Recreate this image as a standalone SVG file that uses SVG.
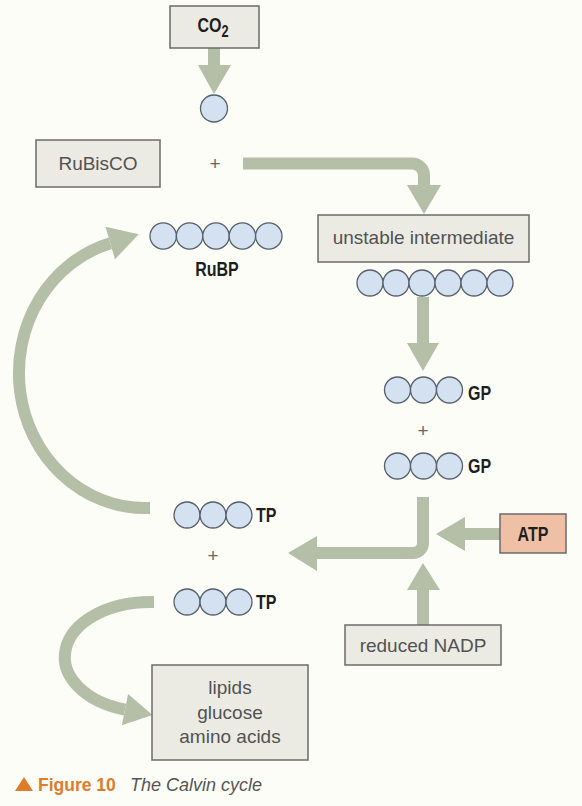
<svg xmlns="http://www.w3.org/2000/svg" width="582" height="806" viewBox="0 0 582 806">
<style>
.bg{fill:#fdfdf8}
.box{fill:#ebebe4;stroke:#6b6b6b;stroke-width:1.5}
.atp{fill:#efbfa6;stroke:#6b6b6b;stroke-width:1.5}
.c{fill:#d4e1f0;stroke:#56606b;stroke-width:1.3}
.shaft{fill:none;stroke:#b5bea7;stroke-width:12}
.head{fill:#b5bea7}
.t{font-family:"Liberation Sans",Arial,sans-serif;font-size:19px;fill:#525252;text-anchor:middle}
.b{font-family:"Liberation Sans",Arial,sans-serif;font-weight:bold;font-size:20px;fill:#1e1e1e}
.plus{font-family:"Liberation Sans",Arial,sans-serif;font-size:19px;fill:#666;text-anchor:middle}
</style>
<rect class="bg" x="0" y="0" width="582" height="806"/>

<g id="connectors">
  <line class="shaft" x1="214" y1="48" x2="214" y2="66"/>
  <polygon class="head" points="198,65 231,65 214,94"/>
  <path class="shaft" d="M243,163.5 H412 A12,12 0 0 1 424,175.5 V186"/>
  <polygon class="head" points="407,185 441,185 424,214"/>
  <line class="shaft" x1="423" y1="297" x2="423" y2="344"/>
  <polygon class="head" points="407,343 439,343 423,371"/>
  <path class="shaft" d="M423,497 V543 A10,10 0 0 1 413,553 H316"/>
  <polygon class="head" points="317,536 317,571 288,553"/>
  <line class="shaft" x1="500" y1="534" x2="464" y2="534"/>
  <polygon class="head" points="465,517 465,551 436,534"/>
  <line class="shaft" x1="423" y1="625" x2="423" y2="589"/>
  <polygon class="head" points="407,590 440,590 423,563"/>
  <path class="shaft" d="M150,508 L145,508 A126,135 0 0 1 110.3,243.2"/>
  <polygon class="head" points="115,259.3 105.5,226.7 138.7,234.2"/>
  <path class="shaft" d="M154,602 L150,602 A85,55 0 0 0 125,709.6"/>
  <polygon class="head" points="121.9,725.3 128.1,693.9 152.5,715"/>
</g>

<g id="co2">
  <rect class="box" x="170" y="6" width="89" height="42"/>
  <text class="b" transform="translate(213,32) scale(0.8,1)" text-anchor="middle">CO<tspan font-size="16" dy="5">2</tspan></text>
</g>

<g id="carbon">
  <circle class="c" cx="214" cy="108.5" r="13.5"/>
</g>

<g id="rubisco">
  <rect class="box" x="36" y="140" width="124" height="47"/>
  <text class="t" x="98" y="170">RuBisCO</text>
</g>

<text id="plus-top" class="plus" x="215" y="170">+</text>

<g id="rubp">
  <circle class="c" cx="163.2" cy="236" r="13.2"/>
  <circle class="c" cx="189.6" cy="236" r="13.2"/>
  <circle class="c" cx="216" cy="236" r="13.2"/>
  <circle class="c" cx="242.4" cy="236" r="13.2"/>
  <circle class="c" cx="268.8" cy="236" r="13.2"/>
  <text class="b" transform="translate(217,276) scale(0.8,1)" text-anchor="middle">RuBP</text>
</g>

<g id="unstable-intermediate">
  <rect class="box" x="318" y="215" width="211" height="47"/>
  <text class="t" x="423.5" y="244">unstable intermediate</text>
  <circle class="c" cx="370" cy="283" r="13"/>
  <circle class="c" cx="396" cy="283" r="13"/>
  <circle class="c" cx="422" cy="283" r="13"/>
  <circle class="c" cx="448" cy="283" r="13"/>
  <circle class="c" cx="474" cy="283" r="13"/>
  <circle class="c" cx="500" cy="283" r="13"/>
</g>

<g id="gp1">
  <circle class="c" cx="397.5" cy="390" r="13"/>
  <circle class="c" cx="423.5" cy="390" r="13"/>
  <circle class="c" cx="449.5" cy="390" r="13"/>
  <text class="b" transform="translate(468,400) scale(0.8,1)">GP</text>
</g>

<text id="plus-gp" class="plus" x="423" y="437">+</text>

<g id="gp2">
  <circle class="c" cx="397.5" cy="466" r="13"/>
  <circle class="c" cx="423.5" cy="466" r="13"/>
  <circle class="c" cx="449.5" cy="466" r="13"/>
  <text class="b" transform="translate(468,473) scale(0.8,1)">GP</text>
</g>

<g id="atp">
  <rect class="atp" x="500" y="514" width="66" height="39"/>
  <text class="b" transform="translate(533,541) scale(0.8,1)" text-anchor="middle">ATP</text>
</g>

<g id="reduced-nadp">
  <rect class="box" x="345" y="625" width="156" height="40"/>
  <text class="t" x="423" y="652">reduced NADP</text>
</g>

<g id="tp1">
  <circle class="c" cx="187" cy="515" r="13"/>
  <circle class="c" cx="213" cy="515" r="13"/>
  <circle class="c" cx="239" cy="515" r="13"/>
  <text class="b" transform="translate(256,522) scale(0.8,1)">TP</text>
</g>

<text id="plus-tp" class="plus" x="213" y="562">+</text>

<g id="tp2">
  <circle class="c" cx="187" cy="602" r="13"/>
  <circle class="c" cx="213" cy="602" r="13"/>
  <circle class="c" cx="239" cy="602" r="13"/>
  <text class="b" transform="translate(256,609) scale(0.8,1)">TP</text>
</g>

<g id="products">
  <rect class="box" x="152" y="665" width="156" height="95"/>
  <text class="t" x="230" y="694">lipids</text>
  <text class="t" x="230" y="719">glucose</text>
  <text class="t" x="230" y="743">amino acids</text>
</g>

<g id="caption">
  <polygon points="15,791 33,791 24,777" fill="#e07b2a"/>
  <text x="38" y="791" font-family="'Liberation Sans',Arial,sans-serif" font-weight="bold" font-size="17.5" fill="#e07b2a">Figure 10</text>
  <text x="130" y="791" font-family="'Liberation Sans',Arial,sans-serif" font-style="italic" font-size="18" fill="#555">The Calvin cycle</text>
</g>
</svg>
